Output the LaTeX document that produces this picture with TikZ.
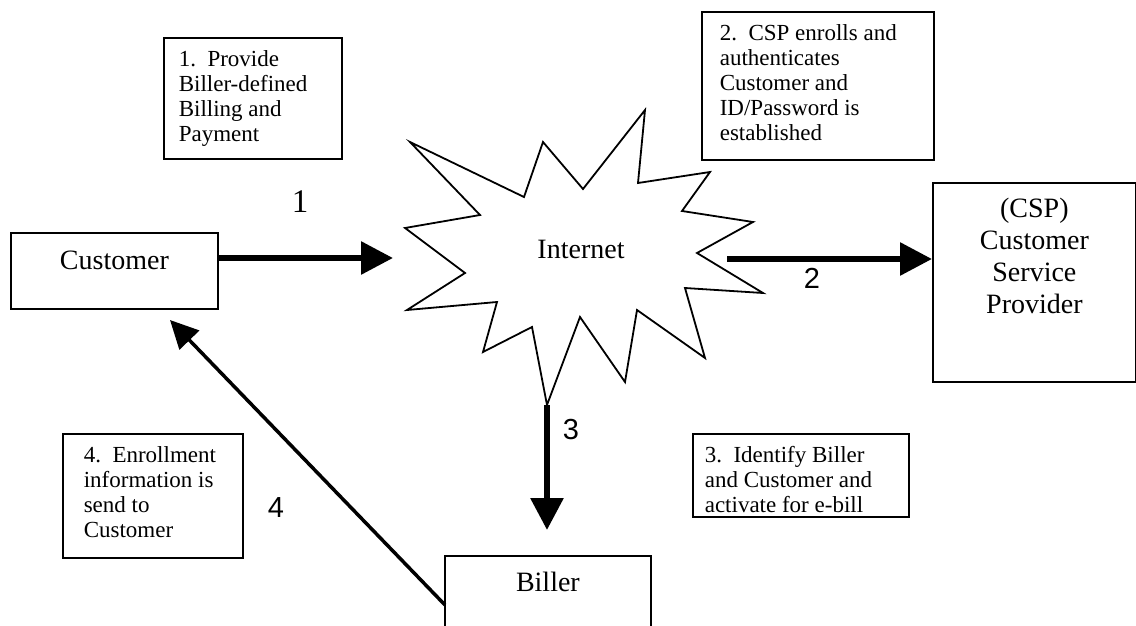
\documentclass[tikz,border=0pt]{standalone}
\usepackage{fontspec}
\setmainfont{Liberation Serif}
\newfontfamily\digsans{Liberation Sans}
\usetikzlibrary{arrows.meta}
\tikzset{
  box/.style={draw, line width=1.8pt, inner sep=0pt},
  note/.style={draw, line width=1.6pt, inner sep=0pt, anchor=north west},
  bigtext/.style={font=\fontsize{28}{32}\selectfont},
  fatarrow/.style={line width=6pt, -{Triangle[length=32pt,width=32pt]}},
  thinarrow/.style={line width=3.5pt, -{Triangle[length=28pt,width=27pt]}},
  numsans/.style={font=\digsans\fontsize{29}{30}\selectfont},
  numserif/.style={font=\fontsize{33}{34}\selectfont},
  star/.style={draw, line width=1.8pt, line join=miter},
}
\newcommand\notetext[4]{\parbox[t][#2][t]{#1}{\raggedright\leftskip=#3\fontsize{23}{25}\selectfont\vspace*{13pt}#4}}
\begin{document}
\begin{tikzpicture}[x=1pt,y=-1pt]
\useasboundingbox (0,0) rectangle (1136,626);
\fill[white] (0,0) rectangle (1136,626);

% Internet starburst
\draw[star] (410,142) -- (524,197) -- (543,142) -- (583,189) -- (645,110) -- (638,183)
  -- (710,172) -- (682,211) -- (753,222) -- (697,253) -- (763,293) -- (685,288)
  -- (705,358) -- (637,310) -- (625,382) -- (580,317) -- (547,405) -- (532,327)
  -- (483,352) -- (497,302) -- (407,310) -- (465,273) -- (405,228) -- (480,215) -- cycle;
\node[bigtext] (inet) at (581,249) {Internet};

% main boxes
\node[box, bigtext, anchor=north west, minimum width=207pt, text height=37pt, text depth=39pt]
  (cust) at (10,232) {Customer};
\node[box, anchor=north west] (csp) at (932,182)
  {\parbox[t][199pt][t]{203pt}{\centering\fontsize{28}{32}\selectfont\vspace*{15pt}(CSP)\\Customer\\Service\\Provider}};
\node[box, bigtext, anchor=north west, minimum width=206pt, text height=36pt, text depth=80pt]
  (biller) at (444,555) {Biller};

% note boxes
\node[note] (n1) at (163,37) {\notetext{178pt}{121pt}{15pt}{1.~~Provide\\Biller-defined\\Billing and\\Payment}};
\node[note] (n2) at (701,11) {\notetext{232pt}{148pt}{18pt}{2.~~CSP enrolls and\\authenticates\\Customer and\\ID/Password is\\established}};
\node[note] (n3) at (692,433) {\notetext{216pt}{83pt}{12pt}{3.~~Identify Biller\\and Customer and\\activate for e-bill}};
\node[note] (n4) at (62,433) {\notetext{180pt}{124pt}{21pt}{4.~~Enrollment\\information is\\send to\\Customer}};

% connector end points
\coordinate (e1) at (393,258);
\coordinate (s2) at (727,259);
\coordinate (s3) at (547,405);
\coordinate (e3) at (547,530);
\coordinate (s4) at (445,605);
\coordinate (e4) at (170,320);

% connectors
\draw[fatarrow] (cust.east |- e1) -- (e1);
\draw[fatarrow] (s2) -- (csp.west |- s2);
\draw[fatarrow] (s3) -- (e3);
\draw[thinarrow] (s4) -- (e4);

% step numbers
\node[numserif] (l1) at (300,202) {1};
\node[numsans] (l2) at (812,278) {2};
\node[numsans] (l3) at (571,430) {3};
\node[numsans] (l4) at (276,508) {4};
\end{tikzpicture}
\end{document}
